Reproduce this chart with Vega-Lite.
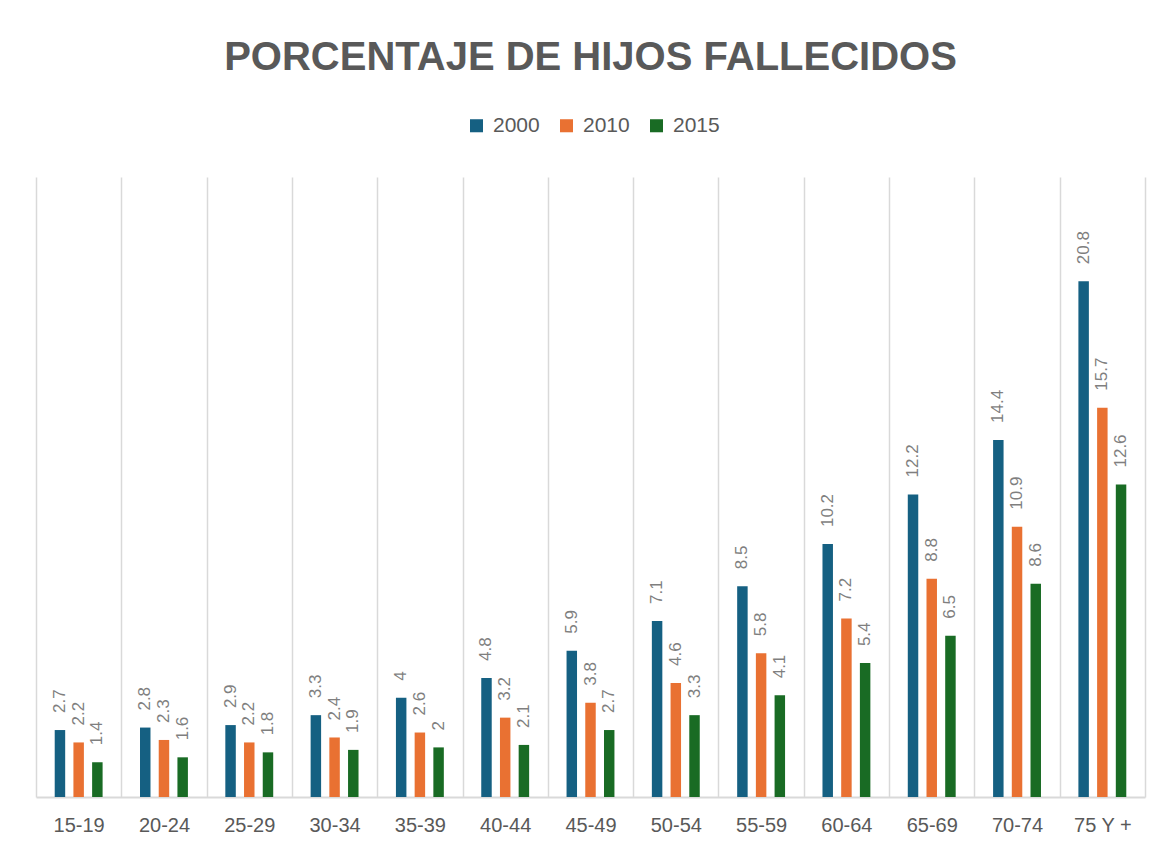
{
  "$schema": "https://vega.github.io/schema/vega-lite/v6.json",
  "width": 1109,
  "height": 620,
  "autosize": {"type": "none"},
  "padding": {"left": 36, "top": 177, "right": 19, "bottom": 51},
  "background": "white",
  "title": {
    "text": "PORCENTAJE DE HIJOS FALLECIDOS",
    "font": "Liberation Sans",
    "fontSize": 40,
    "fontWeight": "bold",
    "color": "#595959",
    "anchor": "middle",
    "baseline": "alphabetic",
    "offset": 5
  },
  "data": {
    "values": [
      {"grupo": "15-19", "year": "2000", "valor": 2.7},
      {"grupo": "15-19", "year": "2010", "valor": 2.2},
      {"grupo": "15-19", "year": "2015", "valor": 1.4},
      {"grupo": "20-24", "year": "2000", "valor": 2.8},
      {"grupo": "20-24", "year": "2010", "valor": 2.3},
      {"grupo": "20-24", "year": "2015", "valor": 1.6},
      {"grupo": "25-29", "year": "2000", "valor": 2.9},
      {"grupo": "25-29", "year": "2010", "valor": 2.2},
      {"grupo": "25-29", "year": "2015", "valor": 1.8},
      {"grupo": "30-34", "year": "2000", "valor": 3.3},
      {"grupo": "30-34", "year": "2010", "valor": 2.4},
      {"grupo": "30-34", "year": "2015", "valor": 1.9},
      {"grupo": "35-39", "year": "2000", "valor": 4},
      {"grupo": "35-39", "year": "2010", "valor": 2.6},
      {"grupo": "35-39", "year": "2015", "valor": 2},
      {"grupo": "40-44", "year": "2000", "valor": 4.8},
      {"grupo": "40-44", "year": "2010", "valor": 3.2},
      {"grupo": "40-44", "year": "2015", "valor": 2.1},
      {"grupo": "45-49", "year": "2000", "valor": 5.9},
      {"grupo": "45-49", "year": "2010", "valor": 3.8},
      {"grupo": "45-49", "year": "2015", "valor": 2.7},
      {"grupo": "50-54", "year": "2000", "valor": 7.1},
      {"grupo": "50-54", "year": "2010", "valor": 4.6},
      {"grupo": "50-54", "year": "2015", "valor": 3.3},
      {"grupo": "55-59", "year": "2000", "valor": 8.5},
      {"grupo": "55-59", "year": "2010", "valor": 5.8},
      {"grupo": "55-59", "year": "2015", "valor": 4.1},
      {"grupo": "60-64", "year": "2000", "valor": 10.2},
      {"grupo": "60-64", "year": "2010", "valor": 7.2},
      {"grupo": "60-64", "year": "2015", "valor": 5.4},
      {"grupo": "65-69", "year": "2000", "valor": 12.2},
      {"grupo": "65-69", "year": "2010", "valor": 8.8},
      {"grupo": "65-69", "year": "2015", "valor": 6.5},
      {"grupo": "70-74", "year": "2000", "valor": 14.4},
      {"grupo": "70-74", "year": "2010", "valor": 10.9},
      {"grupo": "70-74", "year": "2015", "valor": 8.6},
      {"grupo": "75 Y +", "year": "2000", "valor": 20.8},
      {"grupo": "75 Y +", "year": "2010", "valor": 15.7},
      {"grupo": "75 Y +", "year": "2015", "valor": 12.6}
    ]
  },
  "encoding": {
    "x": {
      "field": "grupo",
      "type": "nominal",
      "sort": null,
      "scale": {"paddingInner": 0, "paddingOuter": 0},
      "axis": {
        "title": null,
        "labelAngle": 0,
        "labelFont": "Liberation Sans",
        "labelFontSize": 20,
        "labelColor": "#595959",
        "labelPadding": 18,
        "ticks": false,
        "domainColor": "#d9d9d9",
        "domainWidth": 2,
        "grid": true,
        "gridColor": "#d9d9d9",
        "gridWidth": 1.5,
        "tickBand": "extent"
      }
    },
    "xOffset": {
      "field": "year",
      "type": "nominal",
      "scale": {"paddingInner": 0.44, "paddingOuter": 1.12}
    },
    "y": {
      "field": "valor",
      "type": "quantitative",
      "scale": {"domain": [0, 25]},
      "axis": null
    }
  },
  "layer": [
    {
      "mark": {"type": "bar"},
      "encoding": {
        "color": {
          "field": "year",
          "type": "nominal",
          "scale": {"domain": ["2000", "2010", "2015"], "range": ["#156082", "#E97132", "#196B24"]},
          "legend": {
            "orient": "none",
            "legendX": 430,
            "legendY": -62,
            "direction": "horizontal",
            "title": null,
            "symbolType": "square",
            "symbolSize": 170,
            "symbolStrokeWidth": 0,
            "labelFont": "Liberation Sans",
            "labelFontSize": 21,
            "labelColor": "#595959",
            "labelOffset": 6,
            "columnPadding": 16
          }
        }
      }
    },
    {
      "mark": {
        "type": "text",
        "angle": 270,
        "align": "left",
        "baseline": "middle",
        "dx": 17,
        "font": "Liberation Sans",
        "fontSize": 17,
        "color": "#7f7f7f"
      },
      "encoding": {
        "text": {"field": "valor", "type": "quantitative"}
      }
    }
  ],
  "config": {"view": {"stroke": null}}
}
